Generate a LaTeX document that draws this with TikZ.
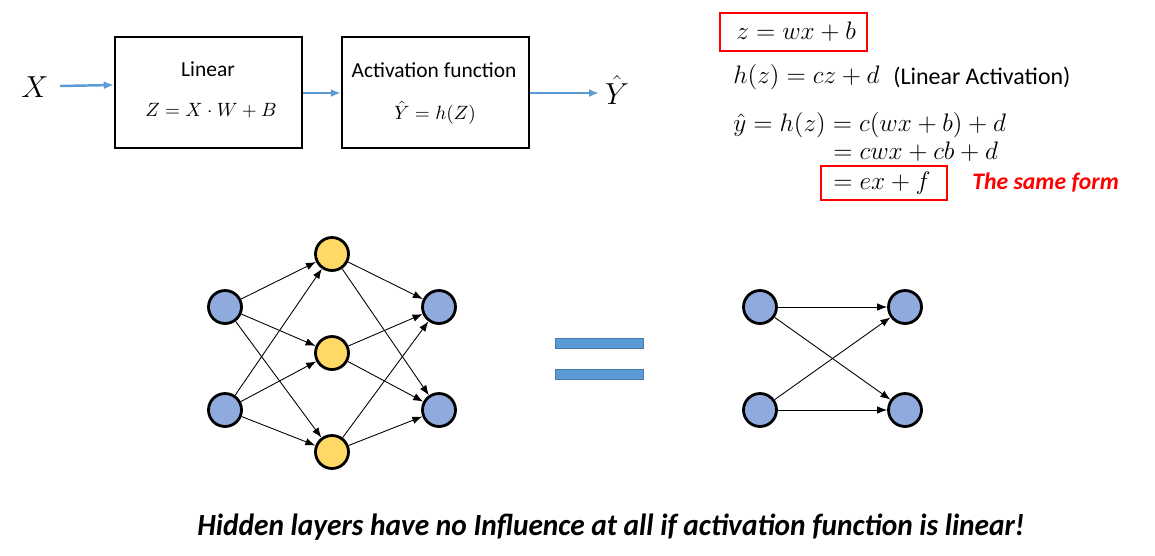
\documentclass[tikz,border=0pt]{standalone}
\usepackage{amsmath,amssymb}
\usepackage{fontspec}
\setmainfont{Carlito}
\usetikzlibrary{arrows.meta,positioning}
\definecolor{unitblue}{HTML}{8FAADC}
\definecolor{unitgold}{HTML}{FFD966}
\definecolor{flowblue}{HTML}{5B9BD5}
\definecolor{markred}{HTML}{FF0000}

\begin{document}
\begin{tikzpicture}[x=0.02cm,y=-0.02cm,
  block/.style={draw,line width=1.4pt,minimum width=187*0.02cm,
    minimum height=111*0.02cm},
  label/.style={font=\fontsize{12.2}{14}\selectfont},
  boxeq/.style={font=\fontsize{10.5}{12}\selectfont},
  eqn/.style={font=\fontsize{15}{17}\selectfont,anchor=west,inner sep=0pt},
  redbox/.style={draw=markred,line width=1.4pt},
  flow/.style={-{Latex[length=2mm,width=1.6mm]},line width=1.4pt,flowblue},
  unit/.style={circle,draw,line width=1.6pt,minimum size=0.66cm,inner sep=0pt},
  inunit/.style={unit,fill=unitblue},
  hidunit/.style={unit,fill=unitgold},
  wire/.style={-{Latex[length=2mm,width=1.5mm]},line width=0.5pt},
  bar/.style={fill=flowblue,draw=flowblue!80!black,line width=0.3pt}]
\useasboundingbox (0,0) rectangle (1155,555);

% top: linear block and activation block
\node[font=\fontsize{16}{18}\selectfont] (x) at (35,87) {$X$};
\node[block] (lin) at (208.5,92.5) {};
\node[label] (lintxt) at (208,69) {Linear};
\node[boxeq] (linf) at (211,111) {$Z = X\cdot W + B$};
\node[block] (act) at (435.5,92.5) {};
\node[label] (acttxt) at (434,70) {Activation function};
\node[boxeq] (actf) at (435,113) {$\hat{Y} = h(Z)$};
\node[font=\fontsize{16}{18}\selectfont] (y) at (617,90) {$\hat{Y}$};
\coordinate (xs) at (60,86);
\draw[flow] (xs) -- (lin.west |- 0,85);
\draw[flow] (lin.east |- 0,93) -- (act.west |- 0,93);
\draw[flow] (act.east |- 0,93) -- (599,93);

% right: equations
\node[eqn] (e1) at (736,32) {$z = wx + b$};
\draw[redbox] (720,13) rectangle (867,51);
\node[eqn] (e2) at (733,77) {$h(z) = cz + d$};
\node[eqn,font=\fontsize{13.6}{16}\selectfont] (e2txt) at (893,77) {(Linear Activation)};
\node[eqn] (e3) at (733,125) {$\hat{y} = h(z) = c(wx + b) + d$};
\node[eqn] (e4) at (833,152) {$= cwx + cb + d$};
\node[eqn] (e5) at (833,183) {$= ex + f$};
\draw[redbox] (821,166) rectangle (947,200);
\node[eqn,text=markred,font=\fontsize{13.5}{15}\selectfont\bfseries\itshape]
  (same) at (972,183) {The same form};

% left network
\node[inunit] (in1) at (225,307) {};
\node[inunit] (in2) at (225,410) {};
\node[hidunit] (h1) at (332,254) {};
\node[hidunit] (h2) at (332,353) {};
\node[hidunit] (h3) at (332,452) {};
\node[inunit] (o1) at (439,307) {};
\node[inunit] (o2) at (439,410) {};
\foreach \i in {in1,in2}
  \foreach \j in {h1,h2,h3}
    \draw[wire] (\i) -- (\j);
\foreach \i in {h1,h2,h3}
  \foreach \j in {o1,o2}
    \draw[wire] (\i) -- (\j);

% equal sign
\draw[bar] (555,338) rectangle (643,348);
\draw[bar] (555,369) rectangle (643,379);

% right network
\node[inunit] (a1) at (760,307) {};
\node[inunit] (a2) at (760,410) {};
\node[inunit] (b1) at (905,307) {};
\node[inunit] (b2) at (905,410) {};
\foreach \i in {a1,a2}
  \foreach \j in {b1,b2}
    \draw[wire] (\i) -- (\j);

% bottom caption
\node[font=\fontsize{17.5}{20}\selectfont\bfseries\itshape] (msg) at (611,527)
  {\scalebox{0.955}[1]{Hidden layers have no Influence at all if activation function is linear!}};
\end{tikzpicture}
\end{document}
